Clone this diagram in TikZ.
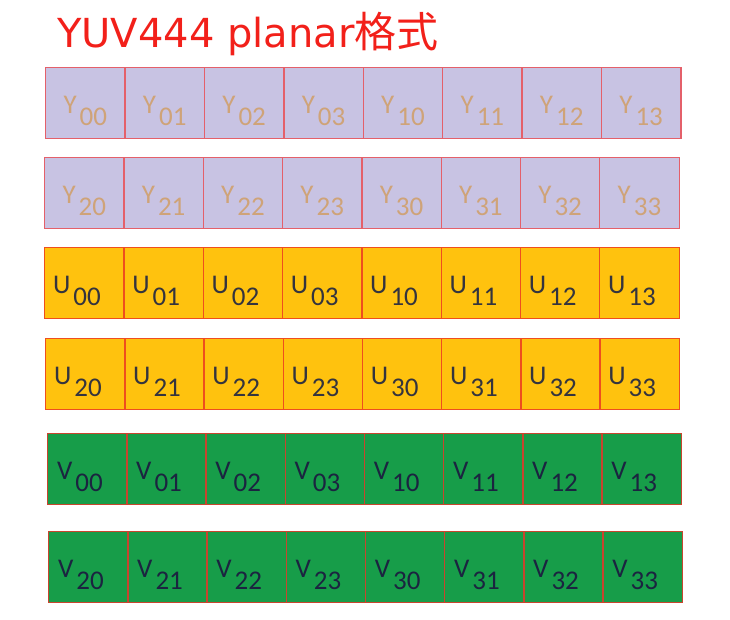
\documentclass[tikz,border=0pt]{standalone}
\usepackage{fontspec}
\setmainfont{Carlito}
\newfontfamily\titlefont{DejaVu Sans}
\newfontfamily\cjkfont{Noto Sans CJK SC}
\usetikzlibrary{positioning}

\definecolor{ypurple}{HTML}{C8C3E3}
\definecolor{yedge}{HTML}{E4606A}
\definecolor{ytext}{HTML}{CFA378}
\definecolor{uorange}{HTML}{FFC20E}
\definecolor{uedge}{HTML}{EE4E1E}
\definecolor{utext}{HTML}{34343E}
\definecolor{vgreen}{HTML}{179D49}
\definecolor{vedge}{HTML}{C8452E}
\definecolor{vtext}{HTML}{1B2440}
\definecolor{titlered}{HTML}{F2201A}

\newcommand\sublow[1]{\hspace{3pt}\raisebox{-12pt}{#1}}

\begin{document}
\begin{tikzpicture}
                    [x=1pt,y=-1pt,
                     cellbox/.style={draw,line width=1.3pt,minimum width=79.4pt,minimum height=71pt,
                                     inner sep=0pt,anchor=north west},
                     ycell/.style={cellbox,fill=ypurple,draw=yedge},
                     ucell/.style={cellbox,fill=uorange,draw=uedge},
                     vcell/.style={cellbox,fill=vgreen,draw=vedge},
                     lab/.style={font=\fontsize{27}{27}\selectfont,inner sep=0pt},
                     ylab/.style={lab,text=ytext},
                     ulab/.style={lab,text=utext,xshift=-7.5pt},
                     vlab/.style={lab,text=vtext,xshift=-7.5pt}]

                \useasboundingbox (0,0) rectangle (730,620);

                \node[anchor=base west,text=titlered,inner sep=0pt]
                    (title) at (57,48) {\titlefont\fontsize{40}{40}\selectfont YUV444 planar\cjkfont\fontsize{42}{42}\selectfont 格式};

                % Y plane
                \foreach \i/\a/\b in {0/00/20,1/01/21,2/02/22,3/03/23,4/10/30,5/11/31,6/12/32,7/13/33} {
                    \node[ycell] (y\a) at (45+79.4*\i,67) {};
                    \node[ylab] at ([yshift=-8pt]y\a.center) {Y\sublow{\a}};
                    \node[ycell] (y\b) at (44+79.3*\i,157) {};
                    \node[ylab] at ([yshift=-8pt]y\b.center) {Y\sublow{\b}};
                }

                % U plane
                \foreach \i/\a/\b in {0/00/20,1/01/21,2/02/22,3/03/23,4/10/30,5/11/31,6/12/32,7/13/33} {
                    \node[ucell] (u\a) at (44+79.3*\i,247) {};
                    \node[ulab] at ([yshift=-8pt]u\a.center) {U\sublow{\a}};
                    \node[ucell] (u\b) at (45+79.2*\i,338) {};
                    \node[ulab] at ([yshift=-8pt]u\b.center) {U\sublow{\b}};
                }

                % V plane
                \foreach \i/\a/\b in {0/00/20,1/01/21,2/02/22,3/03/23,4/10/30,5/11/31,6/12/32,7/13/33} {
                    \node[vcell] (v\a) at (47+79.2*\i,433) {};
                    \node[vlab] at ([yshift=-8pt]v\a.center) {V\sublow{\a}};
                    \node[vcell] (v\b) at (48+79.2*\i,531) {};
                    \node[vlab] at ([yshift=-8pt]v\b.center) {V\sublow{\b}};
                }

                \end{tikzpicture}
\end{document}
